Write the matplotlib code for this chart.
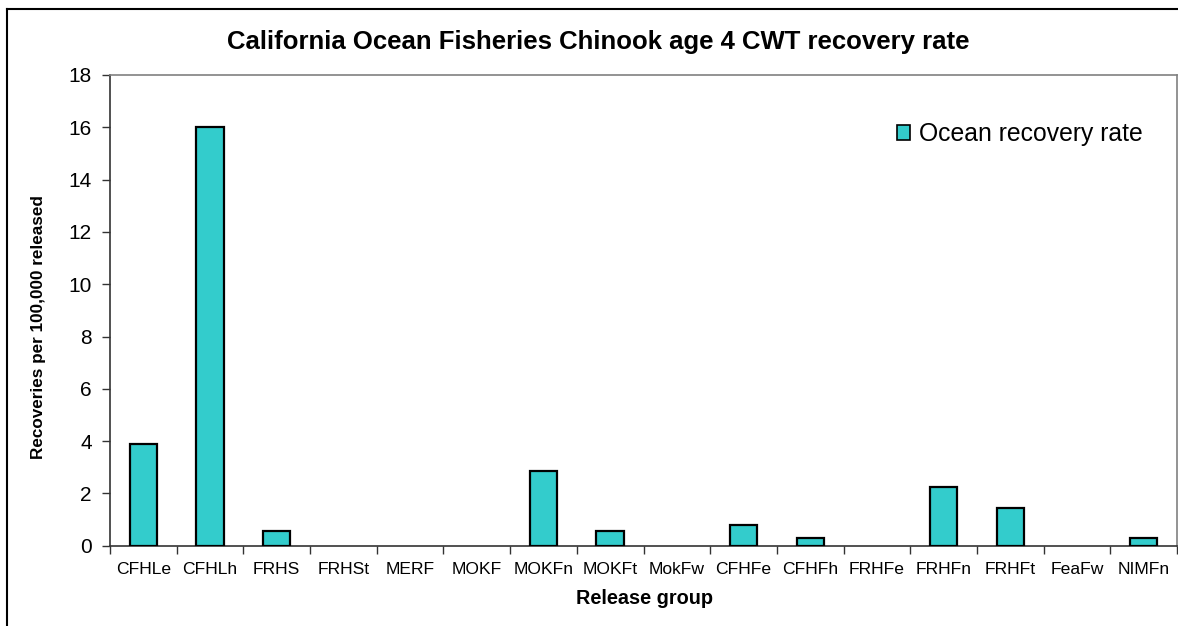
import matplotlib
matplotlib.use("Agg")
import matplotlib.pyplot as plt
from matplotlib.lines import Line2D
from matplotlib.patches import Patch
import numpy as np

# Release groups and ocean recovery rates (recoveries per 100,000 released)
groups = ["CFHLe", "CFHLh", "FRHS", "FRHSt", "MERF", "MOKF", "MOKFn", "MOKFt",
          "MokFw", "CFHFe", "CFHFh", "FRHFe", "FRHFn", "FRHFt", "FeaFw", "NIMFn"]
recovery_rate = [3.88, 16.0, 0.56, 0.0, 0.0, 0.0, 2.86, 0.56,
                 0.0, 0.78, 0.28, 0.0, 2.24, 1.45, 0.0, 0.28]
y_ticks = [0, 2, 4, 6, 8, 10, 12, 14, 16, 18]

plt.rcParams["font.family"] = ["Liberation Sans", "DejaVu Sans"]

W, H = 1178, 626
fig = plt.figure(figsize=(W / 100, H / 100), dpi=100)

# Plot area in pixel units
left, right, top, bottom = 110, 1177, 75, 545.7
ax = fig.add_axes([left / W, 1 - bottom / H, (right - left) / W, (bottom - top) / H])

x = np.arange(len(groups))
bar_color = "#33CCCC"
edge_widths = [1.6 if v > 0 else 0.0 for v in recovery_rate]
ax.bar(x, recovery_rate, width=0.41, color=bar_color, edgecolor="black",
       linewidth=edge_widths, zorder=3)

ax.set_xlim(-0.5, len(groups) - 0.5)
ax.set_ylim(0, 18)
ax.set_yticks(y_ticks)
ax.set_yticklabels([str(t) for t in y_ticks], fontsize=15)
ax.tick_params(axis="y", direction="out", length=6, width=1, color="#333333", pad=7)

ax.set_xticks(x)
ax.set_xticklabels(groups, fontsize=12.6)
ax.tick_params(axis="x", which="major", length=0, pad=12)
ax.set_xticks(np.arange(-0.5, len(groups), 1.0), minor=True)
ax.tick_params(axis="x", which="minor", direction="out", length=6, width=1, color="#333333")

for side in ("top", "right"):
    ax.spines[side].set_color("#808080")
    ax.spines[side].set_linewidth(1.2)
for side in ("left", "bottom"):
    ax.spines[side].set_color("#333333")
    ax.spines[side].set_linewidth(1.2)

# Titles and axis labels
fig.text(598 / W, 1 - 42 / H, "California Ocean Fisheries Chinook age 4 CWT recovery rate",
         ha="center", va="center", fontsize=18.5, fontweight="bold")
fig.text(644 / W, 1 - 599 / H, "Release group", ha="center", va="center",
         fontsize=14.3, fontweight="bold")
fig.text(39 / W, 1 - 327 / H, "Recoveries per 100,000 released", ha="center", va="center",
         rotation=90, fontsize=12.3, fontweight="bold")

# Legend
handle = Patch(facecolor=bar_color, edgecolor="black", linewidth=1.2)
leg = ax.legend([handle], ["Ocean recovery rate"], loc="upper right",
                bbox_to_anchor=(1160 / W, 1 - 105 / H), bbox_transform=fig.transFigure,
                frameon=False, fontsize=17.8, handlelength=0.55, handleheight=0.55,
                handletextpad=0.35, borderpad=0.2)

# Outer frame lines
fig.add_artist(Line2D([7 / W, 1.0], [1 - 9 / H, 1 - 9 / H], color="black", linewidth=1.5))
fig.add_artist(Line2D([7 / W, 7 / W], [0.0, 1 - 9 / H], color="black", linewidth=1.5))

fig.savefig("out.png", dpi=100)
